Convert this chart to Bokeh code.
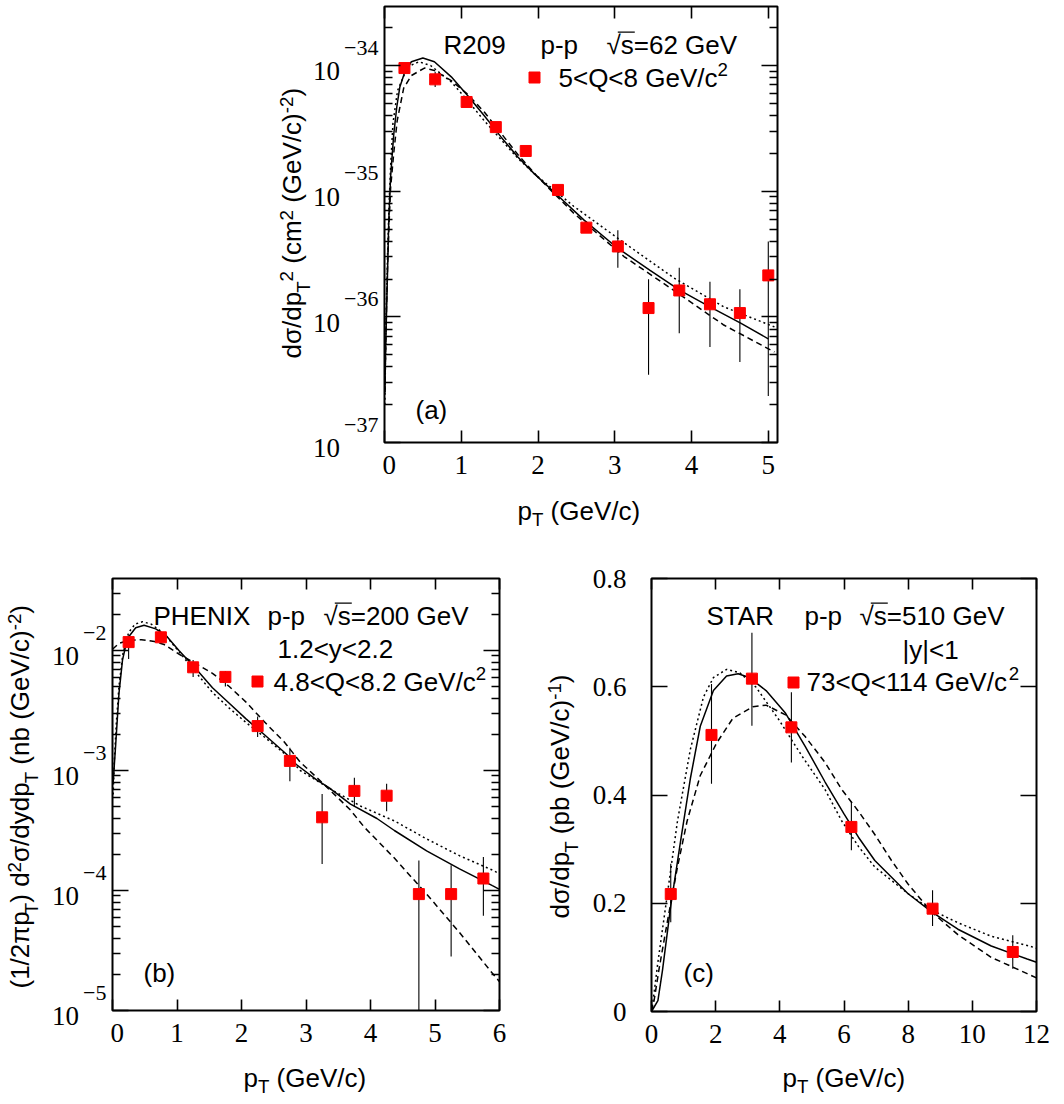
import math
from bokeh.plotting import figure
from bokeh.models import Label, FixedTicker, LinearAxis, LogAxis, Spacer, CustomJSTickFormatter
from bokeh.layouts import column, row
from bokeh.embed import file_html
from bokeh.resources import INLINE

# ---------------- data: panel (a) R209, log10 of cross-section ----------------
a_pt = [0.26, 0.66, 1.07, 1.45, 1.84, 2.26, 2.63, 3.04, 3.44, 3.84, 4.24, 4.63, 5.00]
a_log_y = [-34.02, -34.11, -34.29, -34.49, -34.68, -34.99, -35.29, -35.44, -35.93, -35.79, -35.90, -35.97, -35.67]
a_log_lo = [-34.04, -34.17, -34.32, -34.53, -34.70, -35.04, -35.33, -35.61, -36.46, -36.13, -36.24, -36.36, -36.63]
a_log_hi = [-34.00, -34.05, -34.26, -34.45, -34.66, -34.95, -35.24, -35.31, -35.70, -35.61, -35.72, -35.78, -35.40]

a_solid_x = [0.005, 0.013, 0.035, 0.056, 0.08, 0.12, 0.16, 0.20, 0.26, 0.35, 0.50, 0.65, 0.87, 1.085,
             1.30, 1.52, 1.74, 1.95, 2.25, 2.60, 3.03, 3.46, 3.85, 4.24, 4.64, 5.00]
a_solid_log = [-36.60, -36.29, -35.76, -35.23, -34.88, -34.55, -34.33, -34.17, -34.06, -33.97, -33.94, -33.97,
               -34.09, -34.24, -34.40, -34.57, -34.73, -34.86, -35.03, -35.23, -35.45, -35.63, -35.79, -35.92,
               -36.05, -36.175]
a_dash_x = [0.005, 0.02, 0.04, 0.06, 0.08, 0.12, 0.165, 0.25, 0.35, 0.52, 0.65, 0.87, 1.085, 1.30, 1.52,
            1.74, 2.00, 2.465, 3.12, 3.77, 4.42, 5.08]
a_dash_log = [-36.60, -36.10, -35.60, -35.25, -34.97, -34.70, -34.44, -34.18, -34.08, -34.02, -34.04, -34.12,
              -34.23, -34.37, -34.54, -34.71, -34.89, -35.175, -35.52, -35.79, -36.065, -36.28]
a_dot_x = [0.005, 0.02, 0.04, 0.06, 0.08, 0.11, 0.17, 0.30, 0.45, 0.60, 0.87, 1.085, 1.30, 1.74, 1.95,
           2.465, 3.12, 3.77, 4.42, 5.08]
a_dot_log = [-36.70, -36.00, -35.50, -35.10, -34.80, -34.46, -34.20, -34.01, -33.97, -34.00, -34.13, -34.28,
             -34.44, -34.74, -34.86, -35.12, -35.41, -35.69, -35.92, -36.08]

# ---------------- data: panel (b) PHENIX, log10 ----------------
b_pt = [0.25, 0.75, 1.25, 1.75, 2.25, 2.75, 3.25, 3.75, 4.25, 4.75, 5.25, 5.75]
b_log_y = [-1.93, -1.89, -2.14, -2.22, -2.63, -2.92, -3.39, -3.17, -3.21, -4.03, -4.03, -3.90]
b_log_lo = [-2.07, -1.94, -2.22, -2.30, -2.72, -3.09, -3.78, -3.30, -3.34, -5.00, -4.55, -4.21]
b_log_hi = [-1.875, -1.86, -2.08, -2.17, -2.55, -2.81, -3.195, -3.06, -3.11, -3.75, -3.79, -3.72]

b_solid_x = [0.01, 0.05, 0.10, 0.155, 0.23, 0.36, 0.49, 0.67, 0.83, 1.03, 1.29, 1.55, 1.81, 2.07, 2.33,
             2.69, 2.85, 3.17, 3.35, 3.69, 4.10, 4.37, 4.87, 5.38, 5.89, 6.0]
b_solid_log = [-3.10, -2.78, -2.36, -2.08, -1.90, -1.81, -1.79, -1.82, -1.875, -2.00, -2.15, -2.31, -2.44,
               -2.57, -2.69, -2.86, -2.95, -3.08, -3.14, -3.28, -3.40, -3.50, -3.67, -3.82, -3.96, -3.99]
b_dash_x = [0.0, 0.1, 0.25, 0.45, 0.65, 0.80, 1.03, 1.29, 1.55, 1.81, 2.07, 2.40, 2.66, 2.91, 3.17, 3.48,
            3.69, 3.90, 4.37, 4.87, 5.38, 5.89, 6.0]
b_dash_log = [-1.99, -1.94, -1.915, -1.91, -1.925, -1.95, -2.03, -2.11, -2.19, -2.30, -2.43, -2.62, -2.76,
              -2.93, -3.06, -3.22, -3.33, -3.47, -3.73, -4.03, -4.35, -4.69, -4.76]
b_dot_x = [0.01, 0.03, 0.06, 0.10, 0.16, 0.25, 0.35, 0.465, 0.60, 0.80, 1.03, 1.29, 1.55, 1.81, 2.07, 2.33,
           2.69, 2.91, 3.43, 3.86, 4.37, 4.87, 5.38, 5.89, 6.0]
b_dot_log = [-3.20, -2.90, -2.60, -2.30, -2.03, -1.85, -1.78, -1.76, -1.78, -1.86, -2.01, -2.18, -2.35,
             -2.48, -2.60, -2.71, -2.87, -3.00, -3.17, -3.30, -3.42, -3.57, -3.71, -3.83, -3.86]

# ---------------- data: panel (c) STAR ----------------
c_pt = [0.60, 1.87, 3.13, 4.36, 6.23, 8.76, 11.26]
c_y = [0.217, 0.511, 0.615, 0.525, 0.341, 0.190, 0.110]
c_lo = [0.165, 0.421, 0.528, 0.460, 0.298, 0.158, 0.079]
c_hi = [0.273, 0.605, 0.700, 0.590, 0.388, 0.224, 0.141]

c_solid_x = [0.0, 0.20, 0.34, 0.60, 0.91, 1.21, 1.52, 1.93, 2.34, 2.70, 3.05, 3.57, 4.18, 4.79, 5.41, 6.0,
             6.45, 6.96, 7.99, 8.71, 9.55, 10.59, 11.71, 12.0]
c_solid_y = [0.0, 0.02, 0.075, 0.195, 0.316, 0.43, 0.527, 0.593, 0.62, 0.624, 0.617, 0.593, 0.551, 0.49,
             0.424, 0.365, 0.322, 0.279, 0.218, 0.185, 0.152, 0.121, 0.097, 0.091]
c_dash_x = [0.0, 0.08, 0.24, 0.50, 0.81, 1.11, 1.52, 2.03, 2.54, 3.16, 3.57, 4.18, 4.79, 5.41, 5.93, 6.45,
            6.96, 7.48, 7.99, 8.71, 9.55, 10.59, 11.71, 12.0]
c_dash_y = [0.0, 0.02, 0.08, 0.168, 0.267, 0.352, 0.436, 0.496, 0.542, 0.563, 0.566, 0.548, 0.508, 0.46,
            0.41, 0.37, 0.327, 0.279, 0.236, 0.185, 0.142, 0.10, 0.07, 0.062]
c_dot_x = [0.0, 0.05, 0.19, 0.50, 0.81, 1.21, 1.62, 1.93, 2.34, 2.75, 3.26, 3.97, 4.69, 5.41, 5.93, 6.45,
           6.96, 7.99, 8.71, 9.55, 10.59, 11.71, 12.0]
c_dot_y = [0.0, 0.02, 0.087, 0.219, 0.352, 0.484, 0.581, 0.617, 0.632, 0.626, 0.599, 0.539, 0.472, 0.41,
           0.352, 0.305, 0.267, 0.218, 0.188, 0.164, 0.139, 0.122, 0.117]

a_xticks = [0, 1, 2, 3, 4, 5]
b_xticks = [0, 1, 2, 3, 4, 5, 6]
c_xticks = [0, 2, 4, 6, 8, 10, 12]
c_yticks = [0, 0.2, 0.4, 0.6, 0.8]
a_decades = [-34, -35, -36, -37]
b_decades = [-2, -3, -4, -5]

# ---------------- styling helpers ----------------
SANS = "Liberation Sans"
SERIF = "Liberation Serif"
FS = 26
TICK_FS = 27
EXP_FS = 22
H_FIX = 0.27   # horizontal labels draw this many em below the requested baseline
V_FIX = 0.66   # rotated labels draw this many em to the right of the requested baseline

AW = {' ': 278, '(': 333, ')': 333, '-': 333, '.': 278, '/': 278, '<': 584, '=': 584, '|': 260,
      'A': 667, 'E': 667, 'G': 778, 'H': 722, 'I': 278, 'N': 722, 'P': 667, 'Q': 778, 'R': 722,
      'S': 667, 'T': 611, 'V': 667, 'X': 667, 'a': 556, 'b': 556, 'c': 500, 'd': 556, 'e': 556,
      'm': 833, 'n': 556, 'p': 556, 's': 500, 'y': 500, 'σ': 580, 'π': 580, '√': 549}


def tw(s, size):
    return sum(AW.get(ch, 556) for ch in s) * size / 1000.0


class Canvas:
    """Text placed in page pixels; the figure's canvas origin sits at page pixels (fx, fy)."""

    def __init__(self, p, fx, fy):
        self.p, self.fx, self.fy = p, fx, fy

    def label(self, sx, sy, text, size=FS, font=SANS, align="left", angle=0.0):
        if angle == 0.0:
            sy = sy - H_FIX * size
        else:
            sx = sx - V_FIX * size
        self.p.add_layout(Label(x=sx - self.fx, y=sy - self.fy, x_units="canvas", y_units="canvas",
                                text=text, text_font=font,
                                text_font_size=f"{size:.1f}px", text_color="black", text_align=align,
                                text_baseline="alphabetic", angle=angle))

    def rich(self, sx, sy, segs, size=FS, vertical=False):
        pos = 0.0
        for text, kind in segs:
            if kind == "n":
                fs, down = size, 0.0
            elif kind == "b":
                fs, down = 0.72 * size, 0.25 * size
            else:
                fs, down = 0.72 * size, -0.42 * size
            lead = len(text) - len(text.lstrip(" "))
            pos += tw(" " * lead, fs)
            body = text.lstrip(" ")
            if vertical:
                self.label(sx + down, sy - pos, body, fs, angle=math.pi / 2)
            else:
                self.label(sx + pos, sy + down, body, fs)
            pos += tw(body, fs)


class Panel(Canvas):
    """Frame at page pixels (L, T, W, H)."""

    def __init__(self, p, fx, fy, L, T, W, H, xr, yr, ylog):
        super().__init__(p, fx, fy)
        self.L, self.T, self.W, self.H = L, T, W, H
        self.xr, self.yr, self.ylog = xr, yr, ylog

    def x(self, sx):
        return self.xr[0] + (sx - self.L) / self.W * (self.xr[1] - self.xr[0])

    def y(self, sy):
        f = (self.T + self.H - sy) / self.H
        if self.ylog:
            a, b = math.log10(self.yr[0]), math.log10(self.yr[1])
            return 10 ** (a + f * (b - a))
        return self.yr[0] + f * (self.yr[1] - self.yr[0])

    def sy_of(self, v):
        if self.ylog:
            a, b = math.log10(self.yr[0]), math.log10(self.yr[1])
            f = (math.log10(v) - a) / (b - a)
        else:
            f = (v - self.yr[0]) / (self.yr[1] - self.yr[0])
        return self.T + self.H - f * self.H

    def sqrt_s(self, sx, sy, rest, size=FS):
        self.label(sx, sy, "√s" + rest, size)
        x0 = sx + tw("√", size) - 3
        x1 = sx + tw("√s", size) + 1
        yl = sy - 0.78 * size
        self.p.segment(x0=[self.x(x0)], y0=[self.y(yl)], x1=[self.x(x1)], y1=[self.y(yl)],
                       line_color="black", line_width=1.3)

    def marker(self, sx, sy):
        self.p.scatter(x=[self.x(sx)], y=[self.y(sy)], marker="square", size=11,
                       fill_color="#ff0000", line_color="#ff0000")


def make_fig(width, height, L, R, T, B, xr, yr, ylog):
    p = figure(width=width, height=height, x_range=xr, y_range=yr,
               y_axis_type="log" if ylog else "linear", output_backend="svg",
               toolbar_location=None, min_border_left=L, min_border_right=R,
               min_border_top=T, min_border_bottom=B)
    p.grid.visible = False
    p.outline_line_color = "black"
    p.outline_line_width = 2
    p.background_fill_color = "white"
    p.border_fill_color = "white"
    return p


def text_fig(width, height):
    p = figure(width=width, height=height, x_range=(0, 1), y_range=(0, 1), output_backend="svg",
               toolbar_location=None, min_border=0, x_axis_location=None, y_axis_location=None)
    p.grid.visible = False
    p.outline_line_color = None
    p.background_fill_color = "white"
    p.border_fill_color = "white"
    return p


def style_axis(ax, major, minor, show):
    ax.axis_line_color = None
    ax.major_tick_in = major
    ax.major_tick_out = 0
    ax.minor_tick_in = minor
    ax.minor_tick_out = 0
    ax.major_tick_line_color = "black"
    ax.minor_tick_line_color = "black"
    ax.major_tick_line_width = 1.6
    ax.minor_tick_line_width = 1.3
    if not show:
        ax.formatter = CustomJSTickFormatter(code="return ''")
        ax.major_label_text_font_size = "0px"
        ax.major_label_standoff = 0
    else:
        ax.major_label_text_font = SERIF
        ax.major_label_text_font_size = f"{TICK_FS}px"
        ax.major_label_text_color = "black"


def setup_axes(p, xticks, xlen, yticks, yminor, ylog, show_y):
    xa = p.xaxis[0]
    xa.ticker = FixedTicker(ticks=xticks, minor_ticks=[])
    style_axis(xa, xlen, 0, True)
    xa.major_label_standoff = 13
    top = LinearAxis(ticker=FixedTicker(ticks=xticks, minor_ticks=[]))
    style_axis(top, xlen, 0, False)
    p.add_layout(top, "above")
    ya = p.yaxis[0]
    ya.ticker = FixedTicker(ticks=yticks, minor_ticks=yminor)
    style_axis(ya, 16, 8, show_y)
    right = (LogAxis if ylog else LinearAxis)(ticker=FixedTicker(ticks=yticks, minor_ticks=yminor))
    style_axis(right, 16, 8, False)
    p.add_layout(right, "right")
    return ya


def log_minor(decades, top):
    out = []
    for d in decades:
        for k in range(2, 10):
            v = k * 10.0 ** d
            if v < top:
                out.append(v)
    return out


def draw_series(p, xs, ys, lo, hi, curves):
    for cx, cy, dash in curves:
        p.line(cx, cy, line_color="black", line_width=1.5, line_dash=dash)
    p.segment(x0=xs, y0=lo, x1=xs, y1=hi, line_color="black", line_width=1.1)
    p.scatter(xs, ys, marker="square", size=11, fill_color="#ff0000", line_color="#ff0000")


def exp10(vals):
    return [10.0 ** v for v in vals]


def log_tick_labels(P, C, decades):
    for d in decades:
        ty = P.sy_of(10.0 ** d)
        e = "\u2212" + str(-d)
        we = (564 + 500 * len(str(-d))) * EXP_FS / 1000.0
        C.label(P.L - 6, ty - 12, e, EXP_FS, font=SERIF, align="right")
        C.label(P.L - 6 - we - 4, ty + 13, "10", TICK_FS, font=SERIF, align="right")


# ================= panel (a) =================
# page layout: spacer 270 | left text strip 112 | core figure 415 (frame 384..777 x 6..442)
a_xr = (0, 5.12)
a_yr = (1e-37, 2.95e-34)
pa = make_fig(415, 488, 2, 20, 6, 46, a_xr, a_yr, True)
setup_axes(pa, a_xticks, 12, [10.0 ** d for d in a_decades], log_minor([-37, -36, -35, -34], a_yr[1]), True, False)
draw_series(pa, a_pt, exp10(a_log_y), exp10(a_log_lo), exp10(a_log_hi),
            [(a_solid_x, exp10(a_solid_log), "solid"),
             (a_dash_x, exp10(a_dash_log), "6 4"),
             (a_dot_x, exp10(a_dot_log), "2 3")])
PA = Panel(pa, 382, 0, 384, 6, 393, 436, a_xr, a_yr, True)
ta_left = text_fig(112, 540)
TAL = Canvas(ta_left, 270, 0)
ta_below = text_fig(415, 52)
TAB = Canvas(ta_below, 382, 488)

log_tick_labels(PA, TAL, a_decades)
PA.label(443, 52, "R209")
PA.label(540, 52, "p-p")
PA.sqrt_s(606, 52, "=62 GeV")
PA.marker(534, 77)
PA.rich(558, 85, [("5<Q<8 GeV/c", "n"), ("2", "p")])
PA.label(415, 417, "(a)")
TAB.rich(517, 518, [("p", "n"), ("T", "b"), (" (GeV/c)", "n")])
TAL.rich(309, 358, [("dσ/dp", "n"), ("T", "b"), ("2", "p"), (" (cm", "n"), ("2", "p"),
                    (" (GeV/c)", "n"), ("-2", "p"), (")", "n")], vertical=True)

# ================= panel (b) =================
# left text strip 0..110 (full row height), core 110..519 (frame 112..499 x 578..1010), title strip below
b_xr = (0, 6)
b_yr = (1e-5, 10 ** -1.4)
pb = make_fig(409, 516, 2, 20, 38, 46, b_xr, b_yr, True)
setup_axes(pb, b_xticks, 11, [10.0 ** d for d in b_decades], log_minor([-5, -4, -3, -2], b_yr[1]), True, False)
draw_series(pb, b_pt, exp10(b_log_y), exp10(b_log_lo), exp10(b_log_hi),
            [(b_solid_x, exp10(b_solid_log), "solid"),
             (b_dash_x, exp10(b_dash_log), "6 4"),
             (b_dot_x, exp10(b_dot_log), "2 3")])
PB = Panel(pb, 110, 540, 112, 578, 387, 432, b_xr, b_yr, True)
tb_left = text_fig(110, 560)
TBL = Canvas(tb_left, 0, 540)
tb_below = text_fig(409, 44)
TBB = Canvas(tb_below, 110, 1056)

log_tick_labels(PB, TBL, b_decades)
PB.label(153, 623, "PHENIX")
PB.label(267, 623, "p-p")
PB.sqrt_s(323, 623, "=200 GeV")
PB.label(277, 656, "1.2<y<2.2")
PB.marker(257, 681)
PB.rich(273, 689, [("4.8<Q<8.2 GeV/c", "n"), ("2", "p")])
PB.label(143, 980, "(b)")
TBB.rich(243, 1085, [("p", "n"), ("T", "b"), (" (GeV/c)", "n")])
TBL.rich(37, 988, [("(1/2πp", "n"), ("T", "b"), (") d", "n"), ("2", "p"), ("σ/dydp", "n"), ("T", "b"),
                   (" (nb (GeV/c)", "n"), ("-2", "p"), (")", "n")], vertical=True)

# ================= panel (c) =================
# left text strip 519..586 (full row height), core 586..1056 (frame 651..1036 x 578..1011), title strip below
c_xr = (0, 12)
c_yr = (0, 0.8)
pc = make_fig(470, 516, 65, 20, 38, 45, c_xr, c_yr, False)
ya_c = setup_axes(pc, c_xticks, 11, c_yticks, [], False, True)
ya_c.formatter = CustomJSTickFormatter(code="return String(Math.round(tick * 10) / 10)")
ya_c.major_label_standoff = 25
draw_series(pc, c_pt, c_y, c_lo, c_hi,
            [(c_solid_x, c_solid_y, "solid"),
             (c_dash_x, c_dash_y, "6 4"),
             (c_dot_x, c_dot_y, "2 3")])
PC = Panel(pc, 586, 540, 651, 578, 385, 433, c_xr, c_yr, False)
tc_left = text_fig(67, 560)
TCL = Canvas(tc_left, 519, 540)
tc_below = text_fig(470, 44)
TCB = Canvas(tc_below, 586, 1056)

PC.label(706, 623, "STAR")
PC.label(804, 623, "p-p")
PC.sqrt_s(859, 623, "=510 GeV")
PC.label(902, 657, "|y|<1")
PC.marker(793, 682)
PC.rich(806, 689, [("73<Q<114 GeV/c", "n"), ("2", "p")])
PC.label(683, 980, "(c)")
TCB.rich(782, 1085, [("p", "n"), ("T", "b"), (" (GeV/c)", "n")])
TCL.rich(577, 918, [("dσ/dp", "n"), ("T", "b"), (" (pb (GeV/c)", "n"), ("-1", "p"), (")", "n")],
         vertical=True)

top_row = row(Spacer(width=270, height=540), ta_left, column(pa, ta_below))
bottom_row = row(row(tb_left, column(pb, tb_below)), row(tc_left, column(pc, tc_below)))
layout = column(top_row, bottom_row)
open("out.html", "w").write(file_html(layout, INLINE))
